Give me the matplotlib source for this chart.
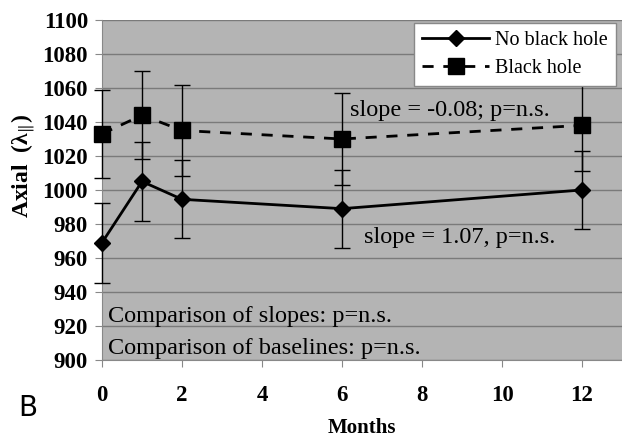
import numpy as np
import matplotlib
matplotlib.use('Agg')
import matplotlib.pyplot as plt
from matplotlib.lines import Line2D

# months and mean values
months = [0, 1, 2, 6, 12]
no_hole = [969, 1005, 994.5, 989, 1000]
no_hole_err = [23.5, 23, 23, 23, 23]
hole = [1033, 1044, 1035, 1030, 1038]
hole_err = [26, 26, 27, 27, 27]

plt.rcParams['font.family'] = ['Liberation Serif', 'DejaVu Serif']
plt.rcParams['mathtext.fontset'] = 'stix'

fig = plt.figure(figsize=(6.22, 4.40), dpi=100)
ax = fig.add_axes([0.164, 0.182, 0.836, 0.7725])
ax.set_facecolor('#b4b4b4')

dash = (0, (4, 3.5))
ax.errorbar(months, no_hole, yerr=no_hole_err, color='black', lw=2,
            marker='D', ms=8, ecolor='black', elinewidth=1, capsize=6,
            capthick=1, zorder=3, clip_on=False)
ax.errorbar(months, hole, yerr=hole_err, color='black', lw=2, ls=dash,
            marker='s', ms=12, ecolor='black', elinewidth=1, capsize=6,
            capthick=1, zorder=3, clip_on=False)

ax.set_xlim(0, 13)
ax.set_ylim(900, 1100)
ax.set_xticks([0, 2, 4, 6, 8, 10, 12])
ax.set_yticks(np.arange(900, 1101, 20))
ax.grid(axis='y', color='#7a7a7a', lw=1)
ax.set_axisbelow(True)
for s in ['top', 'right']:
    ax.spines[s].set_visible(False)
ax.spines['left'].set_color('#888888')
ax.spines['bottom'].set_color('#888888')
ax.tick_params(axis='y', length=5, color='#888888', labelsize=16.5, pad=5)
ax.tick_params(axis='x', length=5, color='#888888', labelsize=16.5, pad=13)
for lab in ax.get_xticklabels() + ax.get_yticklabels():
    lab.set_fontweight('bold')

ax.set_xlabel('Months', fontsize=15, fontweight='bold', labelpad=9)
ax.set_ylabel(r'Axial  (λ$_{\|}$)', fontsize=17, fontweight='bold')
ax.yaxis.set_label_coords(-0.125, 0.57)

ax.text(6.2, 1047, 'slope = -0.08; p=n.s.', fontsize=17.5, va='center')
ax.text(6.55, 972, 'slope = 1.07, p=n.s.', fontsize=17.5, va='center')
ax.text(0.15, 925.5, 'Comparison of slopes: p=n.s.', fontsize=17.5, va='center')
ax.text(0.15, 906.5, 'Comparison of baselines: p=n.s.', fontsize=17.5, va='center')

handles = [Line2D([], [], color='black', lw=2, marker='D', ms=8),
           Line2D([], [], color='black', lw=2, ls=dash, marker='s', ms=12)]
leg = ax.legend(handles, ['No black hole', 'Black hole'], loc='upper right',
                fontsize=14.5, frameon=True, fancybox=False,
                edgecolor='#888888', framealpha=1, handlelength=3.3,
                borderpad=0.4, labelspacing=0.45, handletextpad=0.3,
                borderaxespad=0, bbox_to_anchor=(0.988, 0.991))
leg.get_frame().set_linewidth(1)

fig.text(0.03, 0.055, 'B', fontsize=20, family='DejaVu Sans')

fig.savefig('out.png', dpi=100)
